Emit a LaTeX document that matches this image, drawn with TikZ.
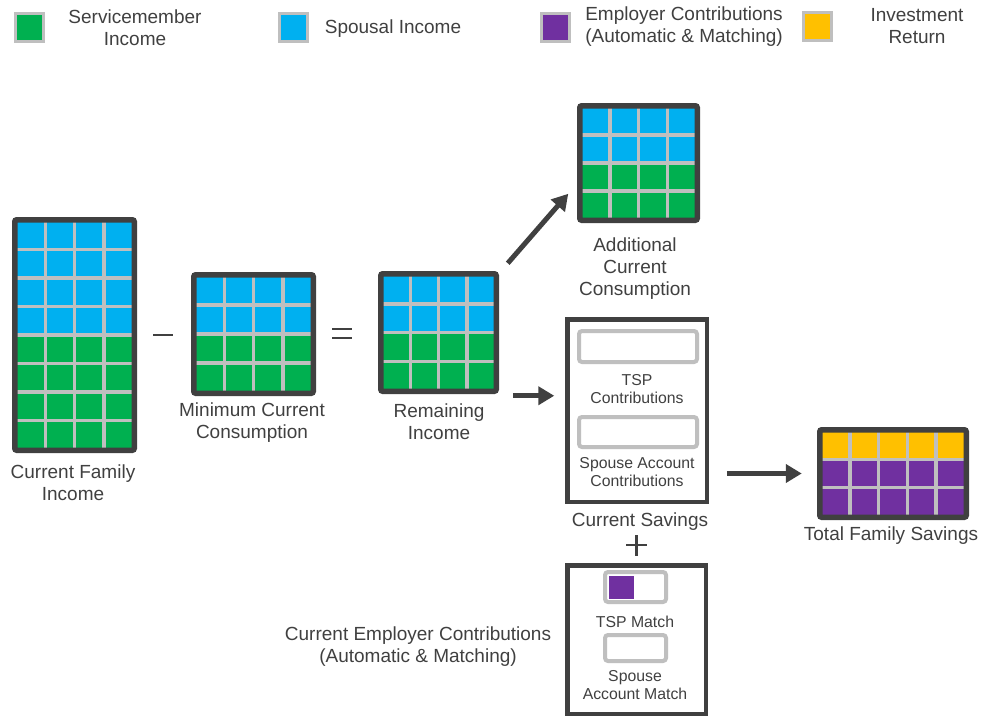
\documentclass[tikz,border=0pt]{standalone}
\usepackage{fontspec}
\setmainfont{Liberation Sans}
\usetikzlibrary{arrows.meta,calc}

\definecolor{cgreen}{HTML}{00B050}
\definecolor{cblue}{HTML}{00B0F0}
\definecolor{cpurple}{HTML}{7030A0}
\definecolor{cyellow}{HTML}{FFC000}
\definecolor{cgap}{HTML}{BFBFBF}
\definecolor{cdark}{HTML}{404040}
\definecolor{ctext}{HTML}{404040}

\tikzset{
  bigtext/.style={text=ctext, align=center, inner sep=0pt,
    font=\fontsize{19}{22}\selectfont},
  smalltext/.style={text=ctext, align=center, inner sep=0pt,
    font=\fontsize{15.8}{18}\selectfont},
  cellgap/.style={draw=cgap, line width=3.5pt},
  gridframe/.style={draw=cdark, line width=5.5pt, rounded corners=2pt,
    inner sep=0pt, outer sep=0pt},
  boxframe/.style={draw=cdark, line width=4.5pt, fill=white,
    inner sep=0pt, outer sep=0pt},
  slot/.style={draw=cgap, line width=4pt, rounded corners=3pt, fill=white,
    inner sep=0pt, outer sep=0pt},
  swatch/.style={draw=cgap, line width=3pt, inner sep=0pt,
    minimum width=28pt, minimum height=28pt},
  flowarrow/.style={draw=cdark, line width=5pt,
    -{Triangle[length=16pt,width=18pt]}},
  opline/.style={draw=cdark, line width=2.6pt},
}

% \cellgrid{name}{x0}{y0}{x1}{y1}{columns}{row colours, top to bottom}
\newcommand\cellgrid[7]{%
  \pgfmathsetmacro\gxa{#2+4}\pgfmathsetmacro\gya{#3+4}%
  \pgfmathsetmacro\gxb{#4-4}\pgfmathsetmacro\gyb{#5-4}%
  \foreach \rc [count=\rn] in {#7} {\xdef\gridrows{\rn}}%
  \foreach \rc [count=\rn from 0] in {#7} {
    \fill[\rc] (\gxa, {\gya+(\gyb-\gya)*\rn/\gridrows})
      rectangle (\gxb, {\gya+(\gyb-\gya)*(\rn+1)/\gridrows});
  }
  \pgfmathtruncatemacro\gridlastrow{\gridrows-1}%
  \foreach \k in {1,...,\gridlastrow}
    \draw[cellgap] (\gxa, {\gya+(\gyb-\gya)*\k/\gridrows})
      -- (\gxb, {\gya+(\gyb-\gya)*\k/\gridrows});
  \pgfmathtruncatemacro\gridlastcol{#6-1}%
  \foreach \k in {1,...,\gridlastcol}
    \draw[cellgap] ({\gxa+(\gxb-\gxa)*\k/#6}, \gya)
      -- ({\gxa+(\gxb-\gxa)*\k/#6}, \gyb);
  \node[gridframe, minimum width={#4-#2-5.5}, minimum height={#5-#3-5.5}]
    (#1) at ({(#2+#4)/2}, {(#3+#5)/2}) {};
}

\begin{document}
\begin{tikzpicture}[x=1pt, y=-1pt]
\useasboundingbox (0,0) rectangle (981,717);

% legend
\node[swatch, fill=cgreen]  (lg1) at (29,28) {};
\node[bigtext] (lt1) at (135,28) {Servicemember\\Income};
\node[swatch, fill=cblue]   (lg2) at (293,28) {};
\node[bigtext] (lt2) at (393,29) {Spousal Income};
\node[swatch, fill=cpurple] (lg3) at (555,28) {};
\node[bigtext] (lt3) at (684,27) {Employer Contributions\\(Automatic \& Matching)};
\node[swatch, fill=cyellow] (lg4) at (817,27) {};
\node[bigtext] (lt4) at (917,26) {Investment\\Return};

% income grids
\cellgrid{income}{12}{217}{137}{453}{4}{cblue,cblue,cblue,cblue,cgreen,cgreen,cgreen,cgreen}
\node[bigtext] (incomelbl) at (73,483) {Current Family\\Income};

\draw[opline] (153,335) -- (173,335);

\cellgrid{mincons}{191}{272}{316}{396}{4}{cblue,cblue,cgreen,cgreen}
\node[bigtext] (minconslbl) at (252,423) {Minimum Current\\Consumption};

\draw[opline] (332,329) -- (352,329) (332,338) -- (352,338);

\cellgrid{remain}{378}{271}{499}{394}{4}{cblue,cblue,cgreen,cgreen}
\node[bigtext] (remainlbl) at (439,422) {Remaining\\Income};

\cellgrid{addcons}{577}{103}{700}{223}{4}{cblue,cblue,cgreen,cgreen}
\node[bigtext] (addconslbl) at (635,269) {Additional\\Current\\Consumption};

% current savings
\node[boxframe, minimum width=139.5, minimum height=182.5] (sav) at (637,410.5) {};
\node[slot, minimum width=118, minimum height=31] (tspslot) at (638,346.5) {};
\node[smalltext] (tsplbl) at (637,389) {TSP\\Contributions};
\node[slot, minimum width=118, minimum height=30] (spslot) at (638,432) {};
\node[smalltext] (splbl) at (637,472.5) {Spouse Account\\Contributions};
\node[bigtext] (savlbl) at (640,522) {Current Savings};

\draw[opline] (626,545) -- (647,545) (636.5,535) -- (636.5,556);

% employer contributions
\node[boxframe, minimum width=138.5, minimum height=148.5] (emp) at (636.5,639.5) {};
\node[slot, minimum width=61, minimum height=30] (matchslot) at (635.5,587) {};
\fill[cpurple] (609,576) rectangle (634,599);
\node[smalltext] (matchlbl) at (635,622) {TSP Match};
\node[slot, minimum width=61, minimum height=26] (spmatchslot) at (635.5,648) {};
\node[smalltext] (spmatchlbl) at (635,685) {Spouse\\Account Match};
\node[bigtext] (emplbl) at (418,647) {Current Employer Contributions\\(Automatic \& Matching)};

% total savings
\cellgrid{total}{817}{427}{969}{520}{5}{cyellow,cpurple,cpurple}
\node[bigtext] (totallbl) at (891,536) {Total Family Savings};

% flows
\draw[flowarrow] ($(remain.north east)+(11.5,-10.5)$) -- ($(addcons.south west)+(-11.5,-26.5)$);
\draw[flowarrow] ($(remain.south east)+(16.5,4.5)$) -- ($(remain.south east -| sav.west)+(-13,4.5)$);
\draw[flowarrow] ($(sav.east |- total.west)+(20,0)$) -- ($(total.west)+(-18,0)$);
\end{tikzpicture}
\end{document}
